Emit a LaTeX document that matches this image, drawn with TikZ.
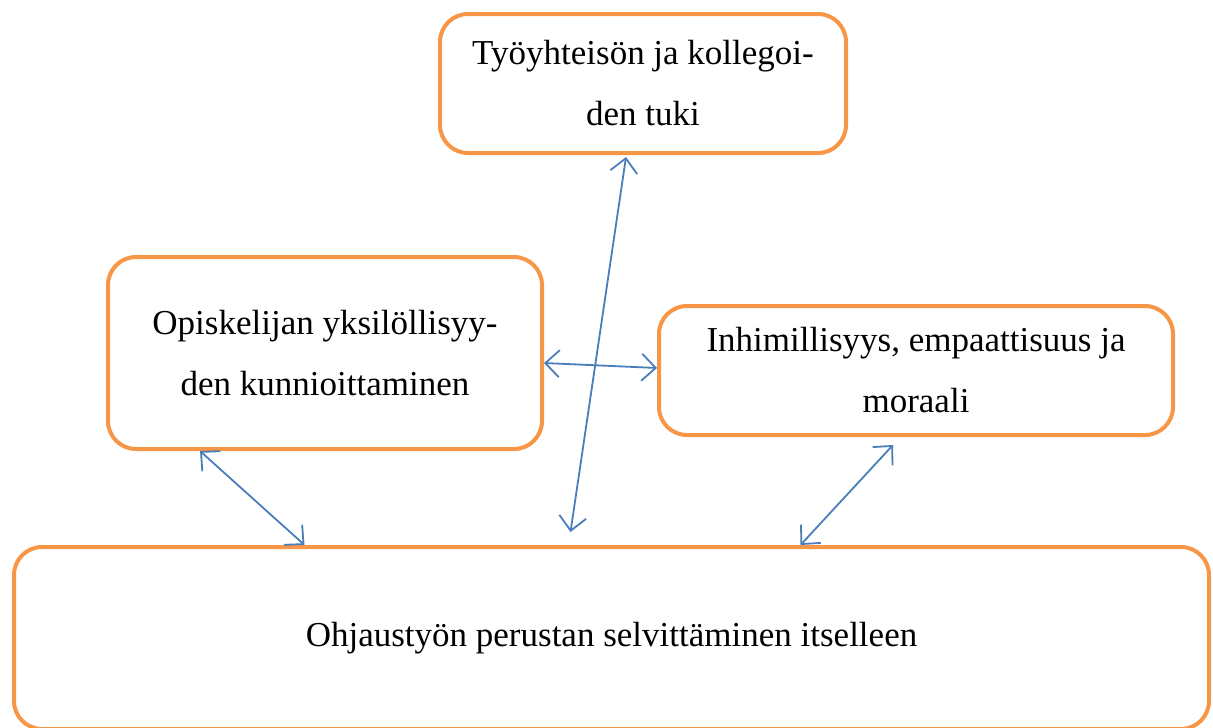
\documentclass[tikz,border=0pt]{standalone}
\usepackage{fontspec}
\setmainfont{Liberation Serif}
\usetikzlibrary{arrows.meta}
\definecolor{boxorange}{HTML}{F79646}
\definecolor{arrowblue}{HTML}{4A7EBB}
\tikzset{
  box/.style={draw=boxorange, line width=4pt, rounded corners=28pt, align=center,
    font=\fontsize{35}{61}\selectfont, inner sep=0pt},
  link/.style={draw=arrowblue, line width=1.8pt,
    {Straight Barb[length=14pt,width=27pt]}-{Straight Barb[length=14pt,width=27pt]}}
}
\begin{document}
\begin{tikzpicture}[x=1pt,y=-1pt]
\useasboundingbox (0,0) rectangle (1213,728);
\begin{scope}
\clip (0,0) rectangle (1213,728);
\node[box, minimum width=406pt, minimum height=139pt] (top) at (643,83.5)
  {Työyhteisön ja kollegoi-\\den tuki};
\node[box, minimum width=434pt, minimum height=192pt] (left) at (325,353)
  {Opiskelijan yksilöllisyy-\\den kunnioittaminen};
\node[box, minimum width=514pt, minimum height=129pt] (right) at (916,370.5)
  {Inhimillisyys, empaattisuus ja\\moraali};
\node[box, minimum width=1195pt, minimum height=182pt] (bottom) at (611.5,638)
  {Ohjaustyön perustan selvittäminen itselleen};
\end{scope}
\draw[link] ([xshift=-17pt,yshift=-2pt]top.south) -- ([xshift=-41pt,yshift=13pt]bottom.north);
\draw[link] ([yshift=-10pt]left.east) -- ([yshift=2.5pt]right.west);
\draw[link] ([xshift=-125pt]left.south) -- ([xshift=-307pt]bottom.north);
\draw[link] ([xshift=-23pt,yshift=-8pt]right.south) -- ([xshift=189pt]bottom.north);
\end{tikzpicture}
\end{document}
